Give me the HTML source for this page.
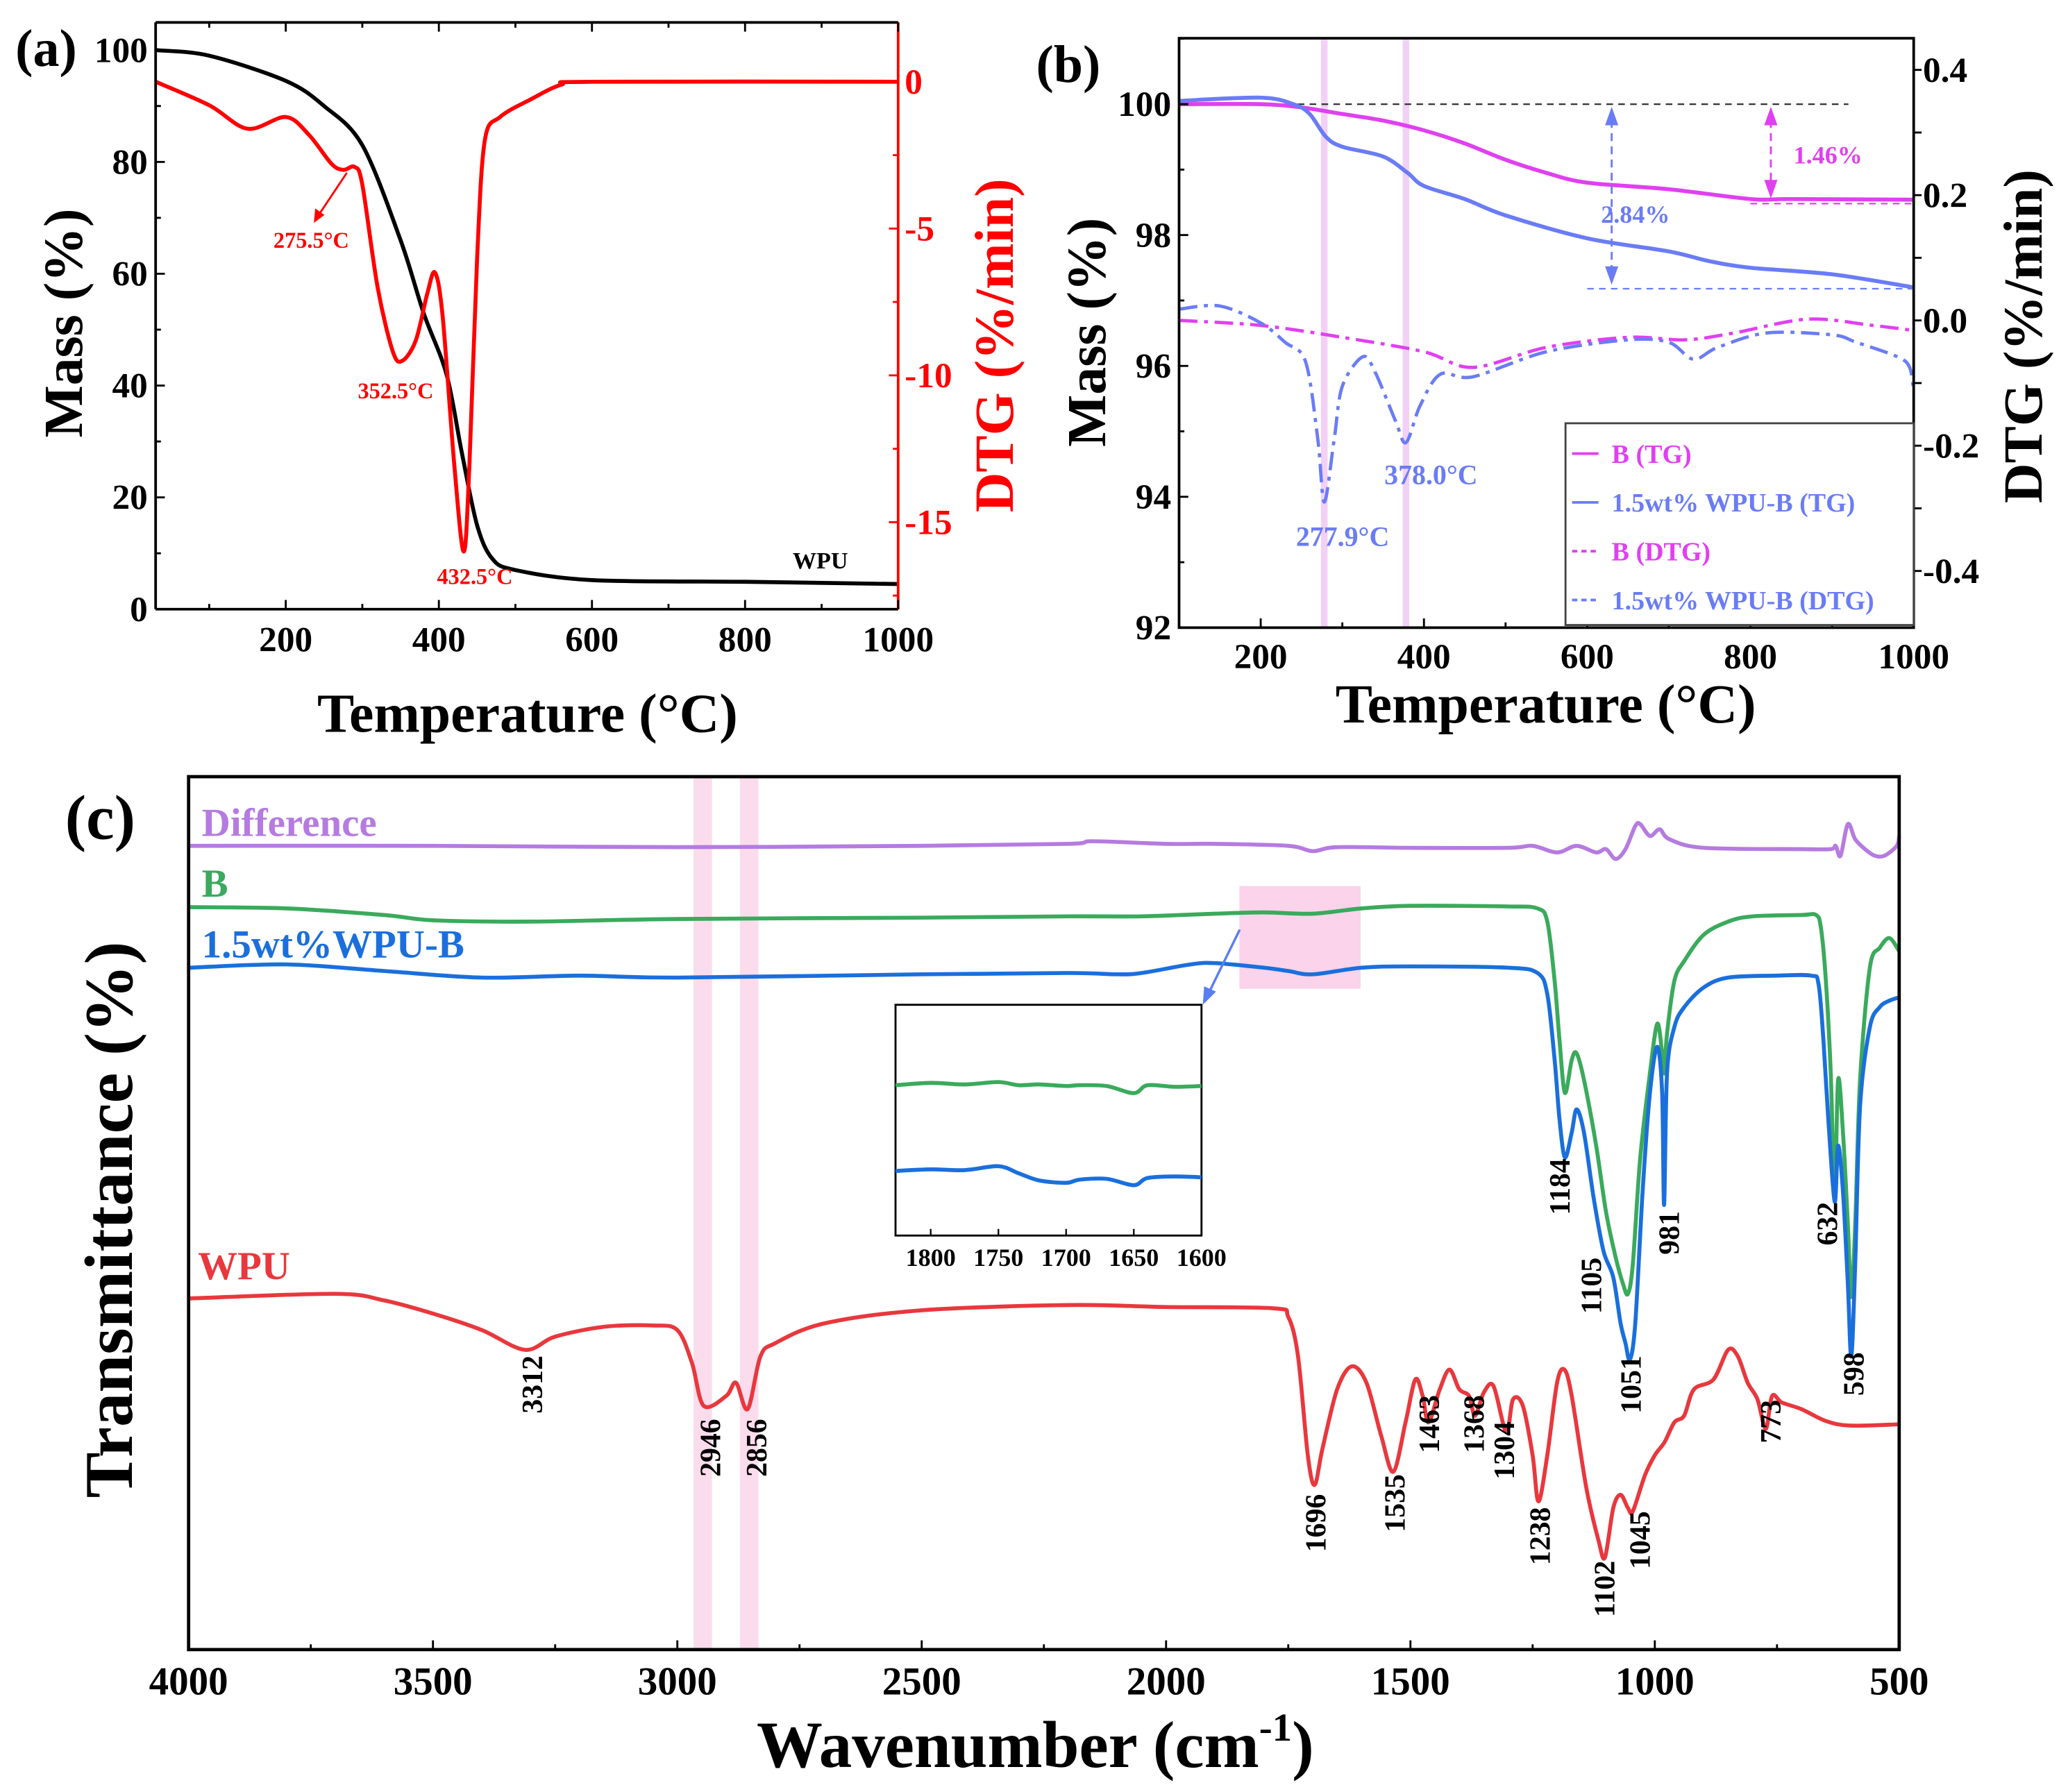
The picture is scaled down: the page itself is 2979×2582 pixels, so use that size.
<!DOCTYPE html>
<html><head><meta charset="utf-8">
<style>
html,body{margin:0;padding:0;background:#fff;}
svg{display:block;font-family:"Liberation Serif",serif;font-weight:bold;}
</style></head>
<body>
<svg id="fig" width="2979" height="2582" viewBox="0 0 1568 1359" preserveAspectRatio="none" xmlns="http://www.w3.org/2000/svg"></svg>
<script>
// ---------- Panel (a) data ----------
const aMassT = [30,100,200,250,300,350,380,410,430,450,470,500,600,800,1000];
const aMassV = [100,99,94.5,90,83,66,53,42,28,15,9,7,5.2,4.9,4.5];
const aDtgT = [30,100,150,200,230,260,275.5,290,300,320,340,352.5,370,385,395,405,420,432.5,440,450,460,480,520,560,600,1000];
const aDtgV = [0,-0.8,-1.6,-1.2,-1.8,-2.8,-3.0,-2.9,-3.5,-7,-9.2,-9.5,-8.8,-7.2,-6.5,-8,-13,-16,-13,-6,-2,-1.2,-0.6,-0.1,0,0];
const aXTicks = [200,400,600,800,1000];
const aYTicks = [0,20,40,60,80,100];
const aY2Ticks = [0,-5,-10,-15];
// ---------- Panel (b) data ----------
const bTgBT = [100,200,250,300,350,400,450,500,550,600,700,800,850,1000];
const bTgBV = [100,100,99.95,99.85,99.75,99.6,99.4,99.15,98.95,98.8,98.7,98.55,98.55,98.54];
const bTgWT = [100,200,240,260,280,300,350,380,400,450,500,600,700,750,800,900,1000];
const bTgWV = [100.05,100.1,100,99.85,99.5,99.35,99.2,98.95,98.75,98.55,98.3,97.95,97.75,97.6,97.5,97.4,97.2];
const bDtgBT = [100,200,300,400,460,550,650,720,780,870,950,1000];
const bDtgBV = [0,-0.008,-0.027,-0.05,-0.075,-0.043,-0.027,-0.031,-0.02,0.002,-0.008,-0.016];
const bDtgWT = [100,150,200,230,255,270,277.9,290,300,325,340,365,378,395,420,460,550,650,700,730,760,820,900,930,980,995,1000];
const bDtgWV = [0.018,0.023,-0.004,-0.035,-0.066,-0.19,-0.29,-0.19,-0.105,-0.058,-0.082,-0.16,-0.195,-0.137,-0.086,-0.09,-0.05,-0.031,-0.035,-0.062,-0.043,-0.02,-0.023,-0.035,-0.058,-0.075,-0.113];
const bXTicks = [200,400,600,800,1000];
const bYTicks = [92,94,96,98,100];
const bY2Ticks = [0.4,0.2,0.0,-0.2,-0.4];
// ---------- Panel (c) data ----------
const cWpuX = [4000,3700,3600,3500,3400,3312,3250,3150,3050,3000,2970,2946,2900,2880,2856,2830,2800,2700,2500,2200,2000,1780,1750,1730,1710,1696,1680,1650,1620,1590,1560,1535,1510,1490,1475,1463,1440,1420,1400,1380,1368,1350,1330,1304,1290,1270,1250,1238,1220,1200,1185,1170,1140,1115,1102,1085,1070,1055,1045,1020,1000,980,960,940,920,880,850,830,810,790,773,760,740,700,650,600,500];
const cWpuV = [533,540,530,510,485,455,475,490,492,485,435,370,385,405,365,445,465,495,515,523,520,518,505,445,295,250,305,395,430,405,325,270,345,410,385,345,395,425,395,385,355,390,400,330,380,370,295,225,295,405,425,385,245,165,140,215,235,215,210,265,295,315,345,355,395,410,455,445,405,380,335,385,375,365,347,340,342];
const cBX = [4000,3800,3600,3500,3300,3000,2500,2200,2050,1900,1800,1700,1600,1500,1300,1240,1220,1205,1195,1184,1170,1160,1145,1120,1100,1080,1065,1055,1045,1030,1010,995,985,981,975,960,940,900,850,800,700,670,660,650,640,632,625,615,605,598,590,580,560,540,520,500];
const cBV = [1127,1125,1115,1107,1105,1109,1111,1113,1113,1117,1119,1117,1125,1129,1128,1125,1105,1015,925,845,895,905,865,765,665,595,555,540,585,745,875,950,905,875,935,1015,1045,1085,1105,1113,1115,1115,1095,1015,875,685,865,785,645,535,645,865,1035,1065,1080,1060];
const cWbX = [4000,3800,3600,3400,3200,3000,2500,2200,2100,2050,1950,1900,1800,1750,1700,1600,1500,1300,1240,1220,1205,1195,1184,1170,1160,1145,1125,1105,1085,1070,1060,1051,1040,1025,1010,995,985,981,975,960,940,900,850,750,680,665,655,645,632,625,615,605,598,590,580,560,540,520,500];
const cWbV = [1035,1040,1030,1020,1023,1020,1025,1027,1025,1027,1040,1042,1035,1030,1025,1035,1037,1035,1027,995,895,805,747,785,820,785,685,605,565,495,465,440,495,695,845,915,845,675,875,945,975,1005,1020,1023,1023,1010,925,805,680,765,695,555,445,585,825,945,975,985,990];
const cDifX = [4000,3500,3000,2500,2200,2150,2000,1900,1750,1700,1650,1500,1300,1250,1200,1160,1120,1100,1080,1060,1040,1030,1010,990,970,900,700,640,630,620,605,590,570,550,530,505,500];
const cDifV = [1220,1220,1218,1220,1223,1227,1223,1223,1220,1212,1218,1217,1217,1220,1210,1220,1210,1215,1200,1215,1250,1253,1235,1245,1230,1217,1215,1215,1220,1205,1253,1230,1215,1205,1205,1220,1235];
const cXTicks = [4000,3500,3000,2500,2000,1500,1000,500];
const cPeakLabels = ["3312","2946","2856","1696","1535","1463","1368","1304","1238","1102","1045","1184","1105","1051","981","632","598","773"];
const insetX = [1826,1800,1775,1750,1735,1720,1700,1690,1670,1650,1640,1620,1600];
const insetG = [0,0.3,0.1,0.4,0,0.1,-0.1,0,-0.1,-1.0,0,-0.2,-0.1];
const insetW = [0,0.2,0.1,0.6,-0.3,-1.2,-1.5,-1.1,-1.0,-1.8,-0.9,-0.7,-0.8];
const insetTicks = [1800,1750,1700,1650,1600];

const NS = "http://www.w3.org/2000/svg";
const svg = document.getElementById('fig');
function el(tag, attrs, parent){const e=document.createElementNS(NS,tag);for(const k in attrs)e.setAttribute(k,attrs[k]);(parent||svg).appendChild(e);return e;}
function lin(d0,d1,r0,r1){return v=>r0+(v-d0)*(r1-r0)/(d1-d0);}
function pathD(xs,ys,sx,sy){
  const P=xs.map((x,i)=>[sx(x),sy(ys[i])]);
  let d='M'+P[0][0].toFixed(2)+','+P[0][1].toFixed(2);
  const k=0.16;
  for(let i=0;i<P.length-1;i++){
    const p0=P[Math.max(0,i-1)],p1=P[i],p2=P[i+1],p3=P[Math.min(P.length-1,i+2)];
    const c1=[p1[0]+(p2[0]-p0[0])*k,p1[1]+(p2[1]-p0[1])*k];
    const c2=[p2[0]-(p3[0]-p1[0])*k,p2[1]-(p3[1]-p1[1])*k];
    d+='C'+c1[0].toFixed(2)+','+c1[1].toFixed(2)+' '+c2[0].toFixed(2)+','+c2[1].toFixed(2)+' '+p2[0].toFixed(2)+','+p2[1].toFixed(2);
  }
  return d;
}
function txt(x,y,s,size,fill,anchor,rot){const t=el('text',{x:x,y:y,'font-size':size,fill:fill||'#000','text-anchor':anchor||'middle'});if(rot)t.setAttribute('transform','rotate('+rot+' '+x+' '+y+')');t.textContent=s;return t;}

// ================= Panel (a) =================
{
const L=118,R=681,T=17,B=462;
const sx=lin(30,1000,L,R), sy=lin(0,100,462,38), sy2=lin(0,-15,62,396);
let t=txt(35,50,'(a)',40,'#000','middle');

let p=el('path',{d:pathD(aMassT,aMassV,sx,sy),fill:'none',stroke:'#000','stroke-width':3});

p=el('path',{d:pathD(aDtgT,aDtgV,sx,sy2),fill:'none',stroke:'#ff0000','stroke-width':3});

el('line',{x1:L,y1:T,x2:R,y2:T,stroke:'#000','stroke-width':2});
el('line',{x1:L,y1:B,x2:R,y2:B,stroke:'#000','stroke-width':2});
el('line',{x1:L,y1:T,x2:L,y2:B,stroke:'#000','stroke-width':2});
let ra=el('line',{x1:R,y1:T,x2:R,y2:B,stroke:'#ff0000','stroke-width':2});

for(let v=100;v<=1000;v+=100){const x=sx(v);el('line',{x1:x,y1:B,x2:x,y2:B-(v%200?4:7),stroke:'#000','stroke-width':1.5});el('line',{x1:x,y1:T,x2:x,y2:T+(v%200?4:7),stroke:'#000','stroke-width':1.5});}
aXTicks.forEach(v=>{const t=txt(sx(v),494,String(v),27);});
for(let v=0;v<=100;v+=10){const y=sy(v);el('line',{x1:L,y1:y,x2:L+(v%20?4:7),y2:y,stroke:'#000','stroke-width':1.5});}
aYTicks.forEach(v=>{const t=txt(112,sy(v)+9,String(v),27,'#000','end');});
for(let v=0;v>=-17.5;v-=2.5){const y=sy2(v);el('line',{x1:R,y1:y,x2:R-(v%5?4:7),y2:y,stroke:'#ff0000','stroke-width':1.5});}
aY2Ticks.forEach(v=>{const t=txt(686,sy2(v)+9,String(v),27,'#ff0000','start');});
t=txt(400,555,'Temperature (°C)',42);
t=txt(62,245,'Mass (%)',42,'#000','middle',-90);
t=txt(768,262,'DTG (%/min)',42,'#ff0000','middle',-90);
const ann=[['275.5°C',236,188],['352.5°C',300,302],['432.5°C',360,443]];
ann.forEach(a=>{const t=txt(a[1],a[2],a[0],17,'#ff0000');});
el('line',{x1:263,y1:131,x2:241,y2:164,stroke:'#ff0000','stroke-width':1.5});
el('path',{d:'M238,169 L239,158 L246,163 Z',fill:'#ff0000'});
t=txt(622,431,'WPU',18);
}

// ================= Panel (b) =================
{
const L=894,R=1451,T=29,B=476;
const sx=lin(100,1000,L,R), sy=lin(92,100,476,79), sy2=lin(0,0.4,243,53);
const MAG='#e040f0', BLU='#6a7cf5';
let t=txt(810,62,'(b)',40);
[277.9,378].forEach(v=>{const r=el('rect',{x:sx(v)-2.5,y:T,width:5,height:B-T,fill:'#f3d0f5'});});
el('line',{x1:sx(100),y1:sy(100),x2:sx(920),y2:sy(100),stroke:'#333','stroke-width':1.2,'stroke-dasharray':'5,4'});
el('line',{x1:sx(600),y1:sy(97.18),x2:R,y2:sy(97.18),stroke:BLU,'stroke-width':1.2,'stroke-dasharray':'5,4'});
el('line',{x1:sx(800),y1:sy(98.48),x2:R,y2:sy(98.48),stroke:MAG,'stroke-width':1.2,'stroke-dasharray':'5,4'});
let p=el('path',{d:pathD(bTgBT,bTgBV,sx,sy),fill:'none',stroke:MAG,'stroke-width':3});

p=el('path',{d:pathD(bTgWT,bTgWV,sx,sy),fill:'none',stroke:BLU,'stroke-width':3});

p=el('path',{d:pathD(bDtgBT,bDtgBV,sx,sy2),fill:'none',stroke:MAG,'stroke-width':2.5,'stroke-dasharray':'14,5,3,5'});

p=el('path',{d:pathD(bDtgWT,bDtgWV,sx,sy2),fill:'none',stroke:BLU,'stroke-width':2.5,'stroke-dasharray':'14,5,3,5'});

function darrow(x,y1,y2,c){el('line',{x1:x,y1:y1+10,x2:x,y2:y2-10,stroke:c,'stroke-width':1.5,'stroke-dasharray':'6,4'});el('path',{d:`M${x},${y1} L${x-5},${y1+14} L${x+5},${y1+14}Z`,fill:c});el('path',{d:`M${x},${y2} L${x-5},${y2-14} L${x+5},${y2-14}Z`,fill:c});}
darrow(sx(630),sy(100)+2,sy(97.2)-2,BLU);
darrow(sx(825),sy(100)+2,sy(98.52)-2,MAG);
t=txt(1240,169,'2.84%',19,BLU);
t=txt(1386,124,'1.46%',19,MAG);
t=txt(1018,414,'277.9°C',21,BLU);
t=txt(1085,367,'378.0°C',21,BLU);
el('rect',{x:L,y:T,width:R-L,height:B-T,fill:'none',stroke:'#000','stroke-width':2});
for(let v=100;v<=1000;v+=100){const x=sx(v);el('line',{x1:x,y1:B,x2:x,y2:B-(v%200?4:7),stroke:'#000','stroke-width':1.5});}
bXTicks.forEach(v=>{const t=txt(sx(v),507,String(v),27);});
for(let v=92;v<=101;v+=1){const y=sy(v);el('line',{x1:L,y1:y,x2:L+(v%2?4:7),y2:y,stroke:'#000','stroke-width':1.5});}
bYTicks.forEach(v=>{const t=txt(888,sy(v)+9,String(v),27,'#000','end');});
for(let v=-0.4;v<=0.41;v+=0.1){const y=sy2(v);el('line',{x1:R,y1:y,x2:R+6,y2:y,stroke:'#000','stroke-width':1.5});}
bY2Ticks.forEach(v=>{const t=txt(1458,sy2(v)+9,v.toFixed(1),27,'#000','start');});
t=txt(1172,548,'Temperature (°C)',42);
t=txt(838,252,'Mass (%)',42,'#000','middle',-90);
t=txt(1548,255,'DTG (%/min)',42,'#000','middle',-90);
const lg=el('g',{});
el('rect',{x:1187,y:321,width:R-1187,height:B-321-2,fill:'#fff',stroke:'#444','stroke-width':1.5},lg);
const items=[['B (TG)',MAG,null],['1.5wt% WPU-B (TG)',BLU,null],['B (DTG)',MAG,'4,3'],['1.5wt% WPU-B (DTG)',BLU,'4,3']];
items.forEach((it,i)=>{const y=344+i*37;const ln=el('line',{x1:1192,y1:y,x2:1212,y2:y,stroke:it[1],'stroke-width':2},lg);if(it[2])ln.setAttribute('stroke-dasharray',it[2]);const t=txt(1222,y+7,it[0],20,it[1],'start');lg.appendChild(t);});
}

// ================= Panel (c) =================
{
const L=143,R=1440,T=589,B=1251;
const sx=lin(4000,500,L,R), sy=lin(0,1325,B,T);
const RED='#e8383d',GRN='#3aaa5c',BLU='#1a6fdc',PUR='#b57be0';
let t=txt(76,636,'(c)',48);
[[2967,2929],[2872,2834]].forEach(b=>{const r=el('rect',{x:sx(b[0]),y:T,width:sx(b[1])-sx(b[0]),height:B-T,fill:'#fbdcec'});});
let hz=el('rect',{x:sx(1850),y:sy(1159),width:sx(1602)-sx(1850),height:sy(1003)-sy(1159),fill:'#fbd3ea'});

const series=[[cDifX,cDifV,PUR,'difference-spectrum'],[cBX,cBV,GRN,'b-spectrum'],[cWbX,cWbV,BLU,'wpu-b-spectrum'],[cWpuX,cWpuV,RED,'wpu-spectrum']];
series.forEach(s=>{const p=el('path',{d:pathD(s[0],s[1],sx,sy),fill:'none',stroke:s[2],'stroke-width':3,'stroke-linejoin':'round'});});
el('rect',{x:L,y:T,width:R-L,height:B-T,fill:'none',stroke:'#000','stroke-width':2.5});
cXTicks.forEach(v=>{const x=sx(v);el('line',{x1:x,y1:B,x2:x,y2:B-7,stroke:'#000','stroke-width':1.5});const t=txt(x,1285,String(v),30);});
for(let v=3750;v>500;v-=500){const x=sx(v);el('line',{x1:x,y1:B,x2:x,y2:B-4,stroke:'#000','stroke-width':1.5});}
t=txt(785,1340,'Wavenumber (cm',50);
const ts=el('tspan',{'font-size':30,dy:-20});ts.textContent='-1';t.appendChild(ts);
const ts2=el('tspan',{dy:20});ts2.textContent=')';t.appendChild(ts2);
t=txt(100,925,'Transmittance (%)',52,'#000','middle',-90);
const sl=[['Difference',PUR,153,634],['B',GRN,153,680],['1.5wt%WPU-B',BLU,153,726],['WPU',RED,150,970]];
sl.forEach(s=>{const t=txt(s[2],s[3],s[0],30,s[1],'start');});
const lp=[[403,1050],[538,1098],[573,1098],[997,1155],[1057,1140],[1083,1080],[1117,1080],[1140,1100],[1167,1165],[1216,1205],[1243,1168],[1182,900],[1206,975],[1236,1050],[1265,935],[1385,928],[1405,1042],[1342,1078]];
cPeakLabels.forEach((s,i)=>{const t=txt(lp[i][0]+8,lp[i][1],s,22,'#000','middle',-90);});
const iL=679,iR=911,iT=762,iB=937;
const ix=lin(1826,1600,iL,iR);
const igy=lin(0,1,823,817), iwy=lin(0,1,888,882);
const ig=el('g',{});
el('rect',{x:iL,y:iT,width:iR-iL,height:iB-iT,fill:'#fff',stroke:'#000','stroke-width':1.5},ig);
let ip=el('path',{d:pathD(insetX,insetG,ix,igy),fill:'none',stroke:GRN,'stroke-width':3},ig);

ip=el('path',{d:pathD(insetX,insetW,ix,iwy),fill:'none',stroke:BLU,'stroke-width':3},ig);

insetTicks.forEach(v=>{const x=ix(v);el('line',{x1:x,y1:iB,x2:x,y2:iB-5,stroke:'#000','stroke-width':1.2},ig);const t=txt(x,960,String(v),19);ig.appendChild(t);});
el('line',{x1:940,y1:705,x2:917,y2:752,stroke:'#5a7df0','stroke-width':1.8});
el('path',{d:'M912,762 L913,748 L922,752 Z',fill:'#5a7df0'});
}
</script>
</body></html>
